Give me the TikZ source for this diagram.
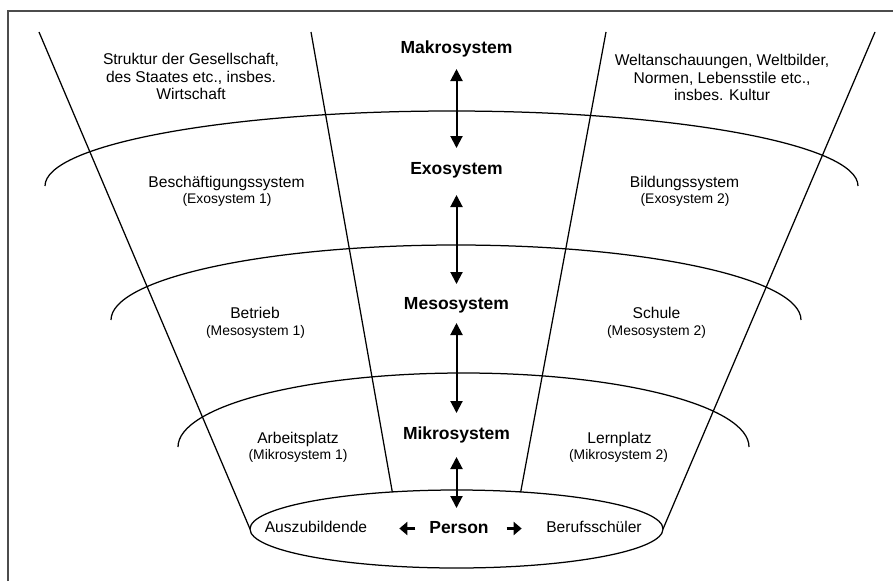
\documentclass[tikz,border=0pt]{standalone}
\usepackage{fontspec}
\setmainfont{Liberation Sans}
\usetikzlibrary{arrows.meta,shapes.geometric}
\begin{document}
\begin{tikzpicture}[x=1pt,y=-1pt,
  every node/.style={inner sep=0pt, outer sep=0pt},
  reg/.style={anchor=base, font=\fontsize{15.6}{18}\selectfont},
  paren/.style={anchor=base, font=\fontsize{13.9}{16}\selectfont},
  sys/.style={anchor=base, font=\fontsize{17.5}{20}\selectfont\bfseries, text height=13pt, text depth=4pt},
  ln/.style={line width=1.25pt},
  varrow/.style={line width=2pt, {Triangle[length=12pt,width=12pt]}-{Triangle[length=12pt,width=12pt]}},
  harrow/.style={line width=3.6pt, -{Triangle[length=8pt,width=13pt]}}]
\useasboundingbox (0,0) rectangle (893,581);
% frame
\draw[black!70, line width=1.6pt] (8,581) -- (8,11) -- (893,11);
% person ellipse
\node[draw, ln, ellipse, minimum width=413pt, minimum height=78pt] (ell) at (456.5,529) {};
% funnel lines
\draw[ln] (39,32) -- (ell.west);
\draw[ln] (875,32) -- (ell.east);
\draw[ln] (311,32) -- (ell.150);
\draw[ln] (606,32) -- (ell.30);
% arcs
\draw[ln] (45,186) arc[start angle=180,end angle=0,x radius=406.5pt,y radius=75pt];
\draw[ln] (111,320) arc[start angle=180,end angle=0,x radius=345pt,y radius=75pt];
\draw[ln] (178,447) arc[start angle=180,end angle=0,x radius=285.5pt,y radius=74pt];
% side texts
\node[reg] (s1) at (191,64) {Struktur der Gesellschaft,};
\node[reg] (s2) at (191,82) {des Staates etc., insbes.};
\node[reg] (s3) at (191,99) {Wirtschaft};
\node[reg] (w1) at (722,65) {Weltanschauungen, Weltbilder,};
\node[reg] (w2) at (722,83) {Normen, Lebensstile etc.,};
\node[reg] (w3) at (722,100) {insbes. Kultur};
\node[reg] (bes) at (226.5,187) {Beschäftigungssystem};
\node[paren] (bes2) at (227,203) {(Exosystem 1)};
\node[reg] (bil) at (684.5,187) {Bildungssystem};
\node[paren] (bil2) at (685,203) {(Exosystem 2)};
\node[reg] (bet) at (255,318) {Betrieb};
\node[paren] (bet2) at (255.5,335) {(Mesosystem 1)};
\node[reg] (sch) at (656.5,318) {Schule};
\node[paren] (sch2) at (656.5,335) {(Mesosystem 2)};
\node[reg] (arb) at (298,443) {Arbeitsplatz};
\node[paren] (arb2) at (298,459) {(Mikrosystem 1)};
\node[reg] (ler) at (619.5,443) {Lernplatz};
\node[paren] (ler2) at (618.5,459) {(Mikrosystem 2)};
\node[reg] (azb) at (316,532) {Auszubildende};
\node[reg] (bsch) at (594,532) {Berufsschüler};
% system labels
\node[sys] (makro) at (456.5,53) {Makrosystem};
\node[sys] (exo) at (456.5,174) {Exosystem};
\node[sys] (meso) at (456.5,309) {Mesosystem};
\node[sys] (mikro) at (456.5,439) {Mikrosystem};
\node[sys] (person) at (459,533) {Person};
% arrows
\draw[varrow] ([yshift=-12pt]makro.south) -- ([yshift=13pt]exo.north);
\draw[varrow] ([yshift=-17pt]exo.south) -- ([yshift=12pt]meso.north);
\draw[varrow] ([yshift=-10pt]meso.south) -- ([yshift=13pt]mikro.north);
\draw[varrow] ([yshift=-14pt]mikro.south) -- ([yshift=12pt]mikro.south |- person.north);
\draw[harrow] ([xshift=-14pt]person.west) -- ([xshift=-30pt]person.west);
\draw[harrow] ([xshift=18pt]person.east) -- ([xshift=33pt]person.east);
\end{tikzpicture}
\end{document}
